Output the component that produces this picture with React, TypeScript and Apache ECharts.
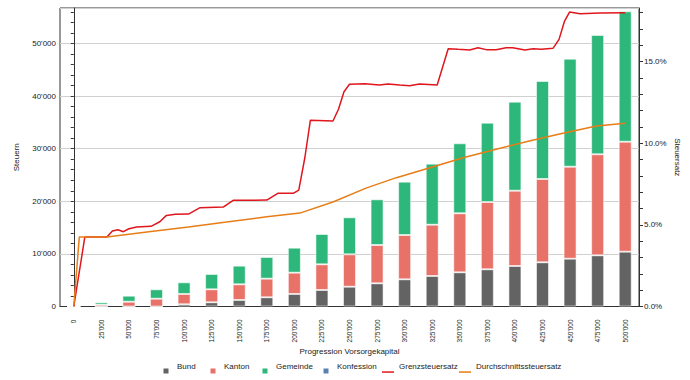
import React, { useEffect, useRef } from "react";
import * as echarts from "echarts";

const categories = ["0", "25'000", "50'000", "75'000", "100'000", "125'000", "150'000", "175'000", "200'000", "225'000", "250'000", "275'000", "300'000", "325'000", "350'000", "375'000", "400'000", "425'000", "450'000", "475'000", "500'000"];
const bund = [0, 0, 0, 0, 420, 800, 1240, 1750, 2380, 3140, 3760, 4410, 5170, 5800, 6500, 7070, 7700, 8400, 9090, 9730, 10420];
const kanton = [0, 340, 910, 1480, 1960, 2470, 2980, 3540, 4050, 4880, 6160, 7280, 8420, 9750, 11220, 12800, 14320, 15840, 17490, 19210, 20910];
const gemeinde = [0, 460, 1150, 1790, 2220, 2910, 3540, 4120, 4750, 5760, 7040, 8690, 10140, 11600, 13310, 15070, 16920, 18630, 20530, 22680, 24790];
const konfession = [0, 0, 0, 0, 0, 0, 0, 0, 0, 0, 0, 0, 0, 0, 0, 0, 0, 0, 0, 0, 0];

const grenzCapital = [0, 10000, 30000, 35000, 40000, 45000, 50000, 57000, 70000, 78000, 84000, 92000, 104000, 114500, 135500, 144500, 175000, 185000, 199000, 204000, 209500, 214500, 235000, 240000, 245000, 250000, 264000, 277000, 285000, 295500, 304500, 313500, 329500, 339500, 348500, 359000, 366500, 374000, 383000, 392000, 398000, 409000, 416500, 424000, 434500, 440000, 445000, 449500, 459000, 477000, 500000];
const grenzRate = [0, 4.25, 4.25, 4.62, 4.7, 4.58, 4.76, 4.87, 4.91, 5.19, 5.58, 5.65, 5.66, 6.05, 6.09, 6.5, 6.52, 6.93, 6.93, 7.13, 9.11, 11.4, 11.36, 12.08, 13.15, 13.61, 13.64, 13.56, 13.63, 13.56, 13.52, 13.63, 13.56, 15.79, 15.75, 15.71, 15.85, 15.73, 15.73, 15.85, 15.85, 15.71, 15.78, 15.75, 15.81, 16.36, 17.48, 18.03, 17.93, 17.97, 17.99];

const avgCapital = [0, 5000, 30000, 70000, 104000, 138500, 175000, 205000, 235000, 265000, 292500, 323000, 353000, 383000, 413000, 443500, 474000, 500000];
const avgRate = [0, 4.25, 4.25, 4.6, 4.87, 5.17, 5.5, 5.72, 6.4, 7.25, 7.89, 8.5, 9.11, 9.63, 10.13, 10.61, 11.05, 11.22];

const FONT = "Liberation Sans";
const TXT = "#222";

const fmt = (v: number) => String(Math.round(v)).replace(/\B(?=(\d{3})+(?!\d))/g, "'");

const sqIcon = "path://M0,0M12,16M3.5,10.5L8.5,10.5L8.5,15.5L3.5,15.5Z";
const lnIcon = "path://M0,0M12,16M0,13.3L12,13.3L12,14.8L0,14.8Z";

export default function App() {
  const ref = useRef<HTMLDivElement>(null);
  useEffect(() => {
    if (!ref.current) return;
    const chart = echarts.init(ref.current, undefined, { renderer: "svg" });
    const legendBase = {
      top: 358,
      padding: 0,
      itemWidth: 12,
      itemHeight: 16,
      symbolKeepAspect: true,
      itemStyle: { borderWidth: 0 },
      textStyle: { fontFamily: FONT, fontSize: 8, color: TXT },
      selectedMode: false,
    };
    const legendItems: [string, string, number][] = [
      ["Bund", sqIcon, 160],
      ["Kanton", sqIcon, 207],
      ["Gemeinde", sqIcon, 259],
      ["Konfession", sqIcon, 320],
      ["Grenzsteuersatz", lnIcon, 382],
      ["Durchschnittssteuersatz", lnIcon, 459],
    ];
    const barBase = {
      type: "bar",
      stack: "steuern",
      xAxisIndex: 0,
      yAxisIndex: 0,
      barWidth: 13,
    };
    chart.setOption({
      animation: false,
      backgroundColor: "#fff",
      textStyle: { fontFamily: FONT },
      grid: { left: 60, right: 51, top: 8, bottom: 73.5, show: true, borderColor: "#333", borderWidth: 1, backgroundColor: "transparent" },
      legend: legendItems.map(([name, icon, left]) => ({ ...legendBase, left, data: [{ name, icon }] })),
      xAxis: [
        {
          type: "category",
          data: categories,
          boundaryGap: true,
          axisLine: { lineStyle: { color: "#333" } },
          axisTick: { length: 5, lineStyle: { color: "#333" } },
          axisLabel: { rotate: 90, margin: 13, fontSize: 6.5, color: TXT, interval: 0, fontFamily: FONT },
          name: "Progression Vorsorgekapital",
          nameLocation: "middle",
          nameGap: 41,
          nameMoveOverlap: false,
          nameTextStyle: { fontSize: 8, color: TXT, fontFamily: FONT },
        },
        { type: "value", min: -12500, max: 512500, show: false },
      ],
      yAxis: [
        {
          type: "value",
          position: "left",
          min: 0,
          max: 56750,
          interval: 2000,
          axisLine: { show: true, lineStyle: { color: "#333" } },
          axisTick: { show: true, length: 3, lineStyle: { color: "#333" } },
          axisLabel: {
            fontSize: 8, color: TXT, margin: 4, fontFamily: FONT, showMaxLabel: false,
            formatter: (v: number) => (v % 10000 === 0 ? fmt(v) : ""),
          },
          splitLine: { show: false },
          name: "Steuern",
          nameLocation: "middle",
          nameGap: 40,
          nameMoveOverlap: false,
          nameTextStyle: { fontSize: 8, color: TXT, fontFamily: FONT },
        },
        {
          type: "value",
          position: "right",
          min: 0,
          max: 18.28,
          interval: 1,
          axisLine: { show: true, lineStyle: { color: "#333" } },
          axisTick: { show: true, length: 4, lineStyle: { color: "#333" } },
          axisLabel: {
            fontSize: 8, color: TXT, margin: 5, fontFamily: FONT, showMaxLabel: false,
            formatter: (v: number) => (Math.round(v) % 5 === 0 ? v.toFixed(1) + "%" : ""),
          },
          splitLine: { show: false },
          name: "Steuersatz",
          nameLocation: "middle",
          nameRotate: -90,
          nameGap: 34,
          nameMoveOverlap: false,
          nameTextStyle: { fontSize: 8, color: TXT, fontFamily: FONT },
        },
        {
          type: "value",
          position: "left",
          min: 0,
          max: 56750,
          interval: 10000,
          axisLine: { show: false },
          axisTick: { show: false },
          axisLabel: { show: false },
          splitLine: { show: true, lineStyle: { color: "#d0d0d0", width: 1 } },
        },
      ],
      series: [
        { ...barBase, name: "Bund", data: bund, itemStyle: { color: "#636363", borderColor: "rgba(255,255,255,0.55)", borderWidth: 1 } },
        { ...barBase, name: "Kanton", data: kanton, itemStyle: { color: "#e87168", borderColor: "rgba(255,255,255,0.55)", borderWidth: 1 } },
        { ...barBase, name: "Gemeinde", data: gemeinde, itemStyle: { color: "#2db77a", borderColor: "rgba(255,255,255,0.55)", borderWidth: 1 } },
        { ...barBase, name: "Konfession", data: konfession, itemStyle: { color: "#5c80b1", borderWidth: 0 } },
        {
          type: "line",
          name: "Grenzsteuersatz",
          xAxisIndex: 1,
          yAxisIndex: 1,
          data: grenzCapital.map((c, i) => [c, grenzRate[i]]),
          symbol: "none",
          z: 5,
          itemStyle: { color: "#e0161c" },
          lineStyle: { color: "#e0161c", width: 1.5 },
        },
        {
          type: "line",
          name: "Durchschnittssteuersatz",
          xAxisIndex: 1,
          yAxisIndex: 1,
          data: avgCapital.map((c, i) => [c, avgRate[i]]),
          symbol: "none",
          z: 5,
          itemStyle: { color: "#e77d16" },
          lineStyle: { color: "#e77d16", width: 1.5 },
        },
      ],
    });
    return () => chart.dispose();
  }, []);
  return <div ref={ref} style={{ position: "fixed", left: 0, top: 0, width: 690, height: 380, background: "#fff" }} />;
}
